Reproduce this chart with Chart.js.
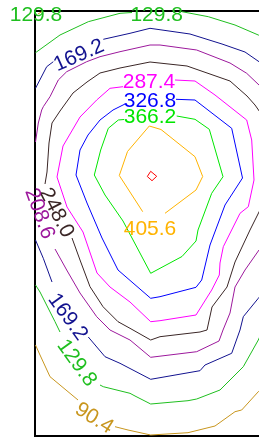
<!DOCTYPE html>
<html><head><meta charset="utf-8">
<script src="https://cdn.jsdelivr.net/npm/chart.js@4/dist/chart.umd.min.js"></script>
<style>html,body{margin:0;padding:0;background:#fff;overflow:hidden}#wrap{width:259px;height:437px;position:relative}</style>
</head><body><div id="wrap"><canvas id="c" width="259" height="437"></canvas></div>
<script>
// contour levels and their colours
const levels = [90.4, 129.8, 169.2, 208.6, 248.0, 287.4, 326.8, 366.2, 405.6, 445.0];
const levelColors = ['#c8961e', '#1fbf1f', '#12128f', '#9c189c', '#3a2626', '#ff00ff', '#0000ff', '#00e600', '#ffb300', '#ff0000'];

// contour paths (x, y in data units), one array of segments per level
const lvl090 = [
  [[0.3, 42.2], [1.1, 42.7]],
  [[0.05, 9.1], [0.5, 8.1], [1.5, 5.93], [4.3, 3.6]],
  [[8.0, 0.93], [9.3, 0.6], [11.57, 0.1], [15.3, 0.33], [18.0, 1.0], [20.0, 2.43], [20.67, 2.6], [22.33, 4.43], [23.5, 5.6]]
];
const lvl130 = [
  [[0.05, 38.33], [2.5, 40.1], [5.33, 41.43], [8.5, 42.27], [9.7, 42.35]],
  [[14.7, 42.43], [17.33, 41.93], [20.0, 41.1], [22.33, 40.1], [23.5, 39.4]],
  [[0.05, 15.1], [0.5, 14.4], [2.0, 11.43], [2.5, 10.4]],
  [[6.5, 5.1], [6.83, 4.93], [9.5, 4.27], [10.0, 4.0], [11.57, 3.2], [15.3, 3.53], [16.17, 3.7], [18.5, 4.6], [20.83, 6.93], [22.33, 9.6], [23.0, 11.1]]
];
const lvl169 = [
  [[0.05, 34.77], [1.17, 36.93], [1.83, 37.43]],
  [[6.83, 39.67], [9.5, 40.27], [11.5, 40.77], [15.5, 40.2], [18.7, 39.2], [21.0, 38.4], [22.4, 37.43], [23.5, 36.6]],
  [[0.05, 19.6], [0.83, 17.77], [1.7, 15.4]],
  [[5.33, 9.9], [7.0, 7.93], [8.5, 7.27], [11.57, 5.67], [16.5, 6.53], [17.0, 7.1], [19.67, 8.27], [20.5, 10.6], [20.83, 11.93], [22.33, 13.77], [23.5, 15.1]]
];
const lvl209 = [
  [[0.05, 29.4], [0.33, 31.3], [0.67, 32.6], [0.83, 32.93], [1.5, 33.93], [2.33, 35.6], [3.17, 36.43], [5.17, 37.43], [6.5, 37.93], [8.5, 38.43], [11.5, 39.1], [12.5, 39.1], [16.17, 38.6], [19.5, 37.3], [21.17, 36.27], [22.4, 35.1], [23.5, 34.1]],
  [[2.0, 18.7], [3.17, 16.6], [4.5, 14.3], [6.17, 11.93], [7.5, 10.6], [9.5, 9.6], [11.57, 7.87], [16.17, 8.43], [18.4, 9.5], [18.8, 10.6], [19.5, 12.3], [20.0, 14.9], [21.0, 16.6], [22.4, 18.6], [23.5, 19.9]]
];
const lvl248 = [
  [[1.0, 25.2], [1.2, 26.4], [1.4, 29.3], [1.7, 31.3], [2.5, 32.5], [3.8, 34.3], [5.2, 35.4], [6.5, 36.3], [8.5, 36.8], [11.5, 37.4], [15.2, 37.0], [19.5, 35.5], [21.2, 34.0], [22.0, 33.1], [22.7, 32.1], [23.5, 27.6], [22.7, 23.0], [21.5, 20.6], [20.0, 17.4], [19.2, 14.9], [17.7, 12.9], [17.2, 10.6], [16.5, 10.4], [12.5, 9.93], [11.57, 9.6], [9.5, 10.77], [8.3, 11.43], [6.8, 12.93], [5.5, 14.93], [4.5, 17.6], [3.7, 19.8]]
];
const lvl287 = [
  [[14.0, 35.6], [16.0, 35.5], [18.0, 34.1], [21.17, 31.6], [21.67, 29.6], [21.9, 25.6], [21.33, 22.93], [20.5, 22.27], [18.83, 18.93], [18.5, 17.3], [18.43, 16.1], [17.67, 14.6], [16.1, 12.1], [12.5, 11.53], [11.57, 11.43], [9.5, 13.4], [7.5, 14.9], [6.2, 16.3], [4.8, 20.4], [3.2, 22.9], [2.2, 25.9], [2.8, 29.0], [4.5, 31.9], [6.17, 33.6], [7.5, 34.77], [8.8, 34.93]]
];
const lvl327 = [
  [[14.1, 33.67], [16.0, 33.6], [19.67, 30.77], [20.75, 25.8], [19.0, 23.1], [17.5, 19.1], [16.67, 15.6], [16.1, 14.87], [12.5, 13.93], [11.57, 13.77], [8.3, 16.6], [6.7, 19.8], [5.2, 23.3], [4.1, 26.1], [4.5, 28.6], [5.3, 30.1], [6.5, 31.6], [7.8, 32.6], [9.0, 33.2]]
];
const lvl366 = [
  [[14.17, 32.0], [16.0, 31.67], [17.43, 30.67], [18.8, 25.93], [17.67, 24.27], [16.3, 20.6], [16.1, 19.5], [14.7, 17.95], [11.57, 16.27], [8.8, 21.5], [7.0, 24.1], [5.93, 26.1], [6.57, 28.6], [7.33, 30.77], [8.33, 31.6], [8.9, 31.65]]
];
const lvl406 = [
  [[10.77, 22.43], [8.43, 26.05], [9.25, 28.45], [11.43, 31.0], [12.6, 30.65], [16.0, 27.93], [16.77, 25.95], [16.1, 24.6], [13.0, 22.27]]
];
const lvl445 = [
  [[11.23, 25.95], [11.57, 26.47], [12.17, 25.97], [11.70, 25.53], [11.23, 25.95]]
];
const contourPaths = [lvl090, lvl130, lvl169, lvl209, lvl248, lvl287, lvl327, lvl366, lvl406, lvl445];

// inline contour labels
const labelText  = ['129.8', '129.8', '169.2', '287.4', '326.8', '366.2', '248.0', '208.6', '405.6', '169.2', '129.8', '90.4'];
const labelLevel = [1, 1, 2, 5, 6, 7, 4, 3, 8, 2, 1, 0];
const labelX     = [0.1, 12.17, 4.33, 11.4, 11.5, 11.5, 2.3, 0.6, 11.5, 3.4, 4.3, 6.0];
const labelY     = [42.25, 42.27, 38.2, 35.55, 33.65, 32.1, 22.4, 22.3, 20.85, 12.0, 7.4, 1.9];
const labelAngle = [0, 0, -24, 0, 0, 0, 63, 70, 0, 54, 54, 32];

const datasets = [];
contourPaths.forEach((segs, li) => {
  segs.forEach(seg => {
    datasets.push({
      label: String(levels[li]),
      data: seg.map(p => ({x: p[0], y: p[1]})),
      showLine: true,
      borderColor: levelColors[li],
      backgroundColor: levelColors[li],
      borderWidth: 1,
      pointRadius: 0,
      pointHoverRadius: 0,
      fill: false,
      tension: 0
    });
  });
});

const labelPlugin = {
  id: 'contourLabels',
  afterDatasetsDraw(chart) {
    const ctx = chart.ctx;
    const xs = chart.scales.x, ys = chart.scales.y;
    const fs = 21;
    ctx.save();
    ctx.font = fs + 'px "Liberation Sans", Arial, sans-serif';
    ctx.textAlign = 'center';
    ctx.textBaseline = 'alphabetic';
    labelText.forEach((t, i) => {
      const px = xs.getPixelForValue(labelX[i]);
      const py = ys.getPixelForValue(labelY[i]);
      ctx.save();
      ctx.translate(px, py);
      ctx.rotate(labelAngle[i] * Math.PI / 180);
      ctx.fillStyle = levelColors[labelLevel[i]];
      ctx.fillText(t, 0, fs * 0.36);
      ctx.restore();
    });
    ctx.restore();
  }
};

const zeroH = s => { s.height = 0; };
const zeroW = s => { s.width = 0; };
const axisBase = {
  grid: {display: false, drawTicks: false},
  ticks: {display: false},
  border: {display: true, color: '#000', width: 2}
};

new Chart(document.getElementById('c'), {
  type: 'scatter',
  data: {datasets},
  options: {
    responsive: false,
    animation: false,
    events: [],
    layout: {padding: {left: 35, top: 11, right: 0, bottom: 1}},
    plugins: {legend: {display: false}, tooltip: {enabled: false}},
    scales: {
      x: Object.assign({type: 'linear', position: 'bottom', min: 0, max: 22.4, afterFit: zeroH}, axisBase),
      xTop: Object.assign({type: 'linear', position: 'top', min: 0, max: 22.4, afterFit: zeroH}, axisBase),
      y: Object.assign({type: 'linear', position: 'left', min: 0, max: 42.5, afterFit: zeroW}, axisBase)
    }
  },
  plugins: [labelPlugin]
});
</script>
</body></html>
